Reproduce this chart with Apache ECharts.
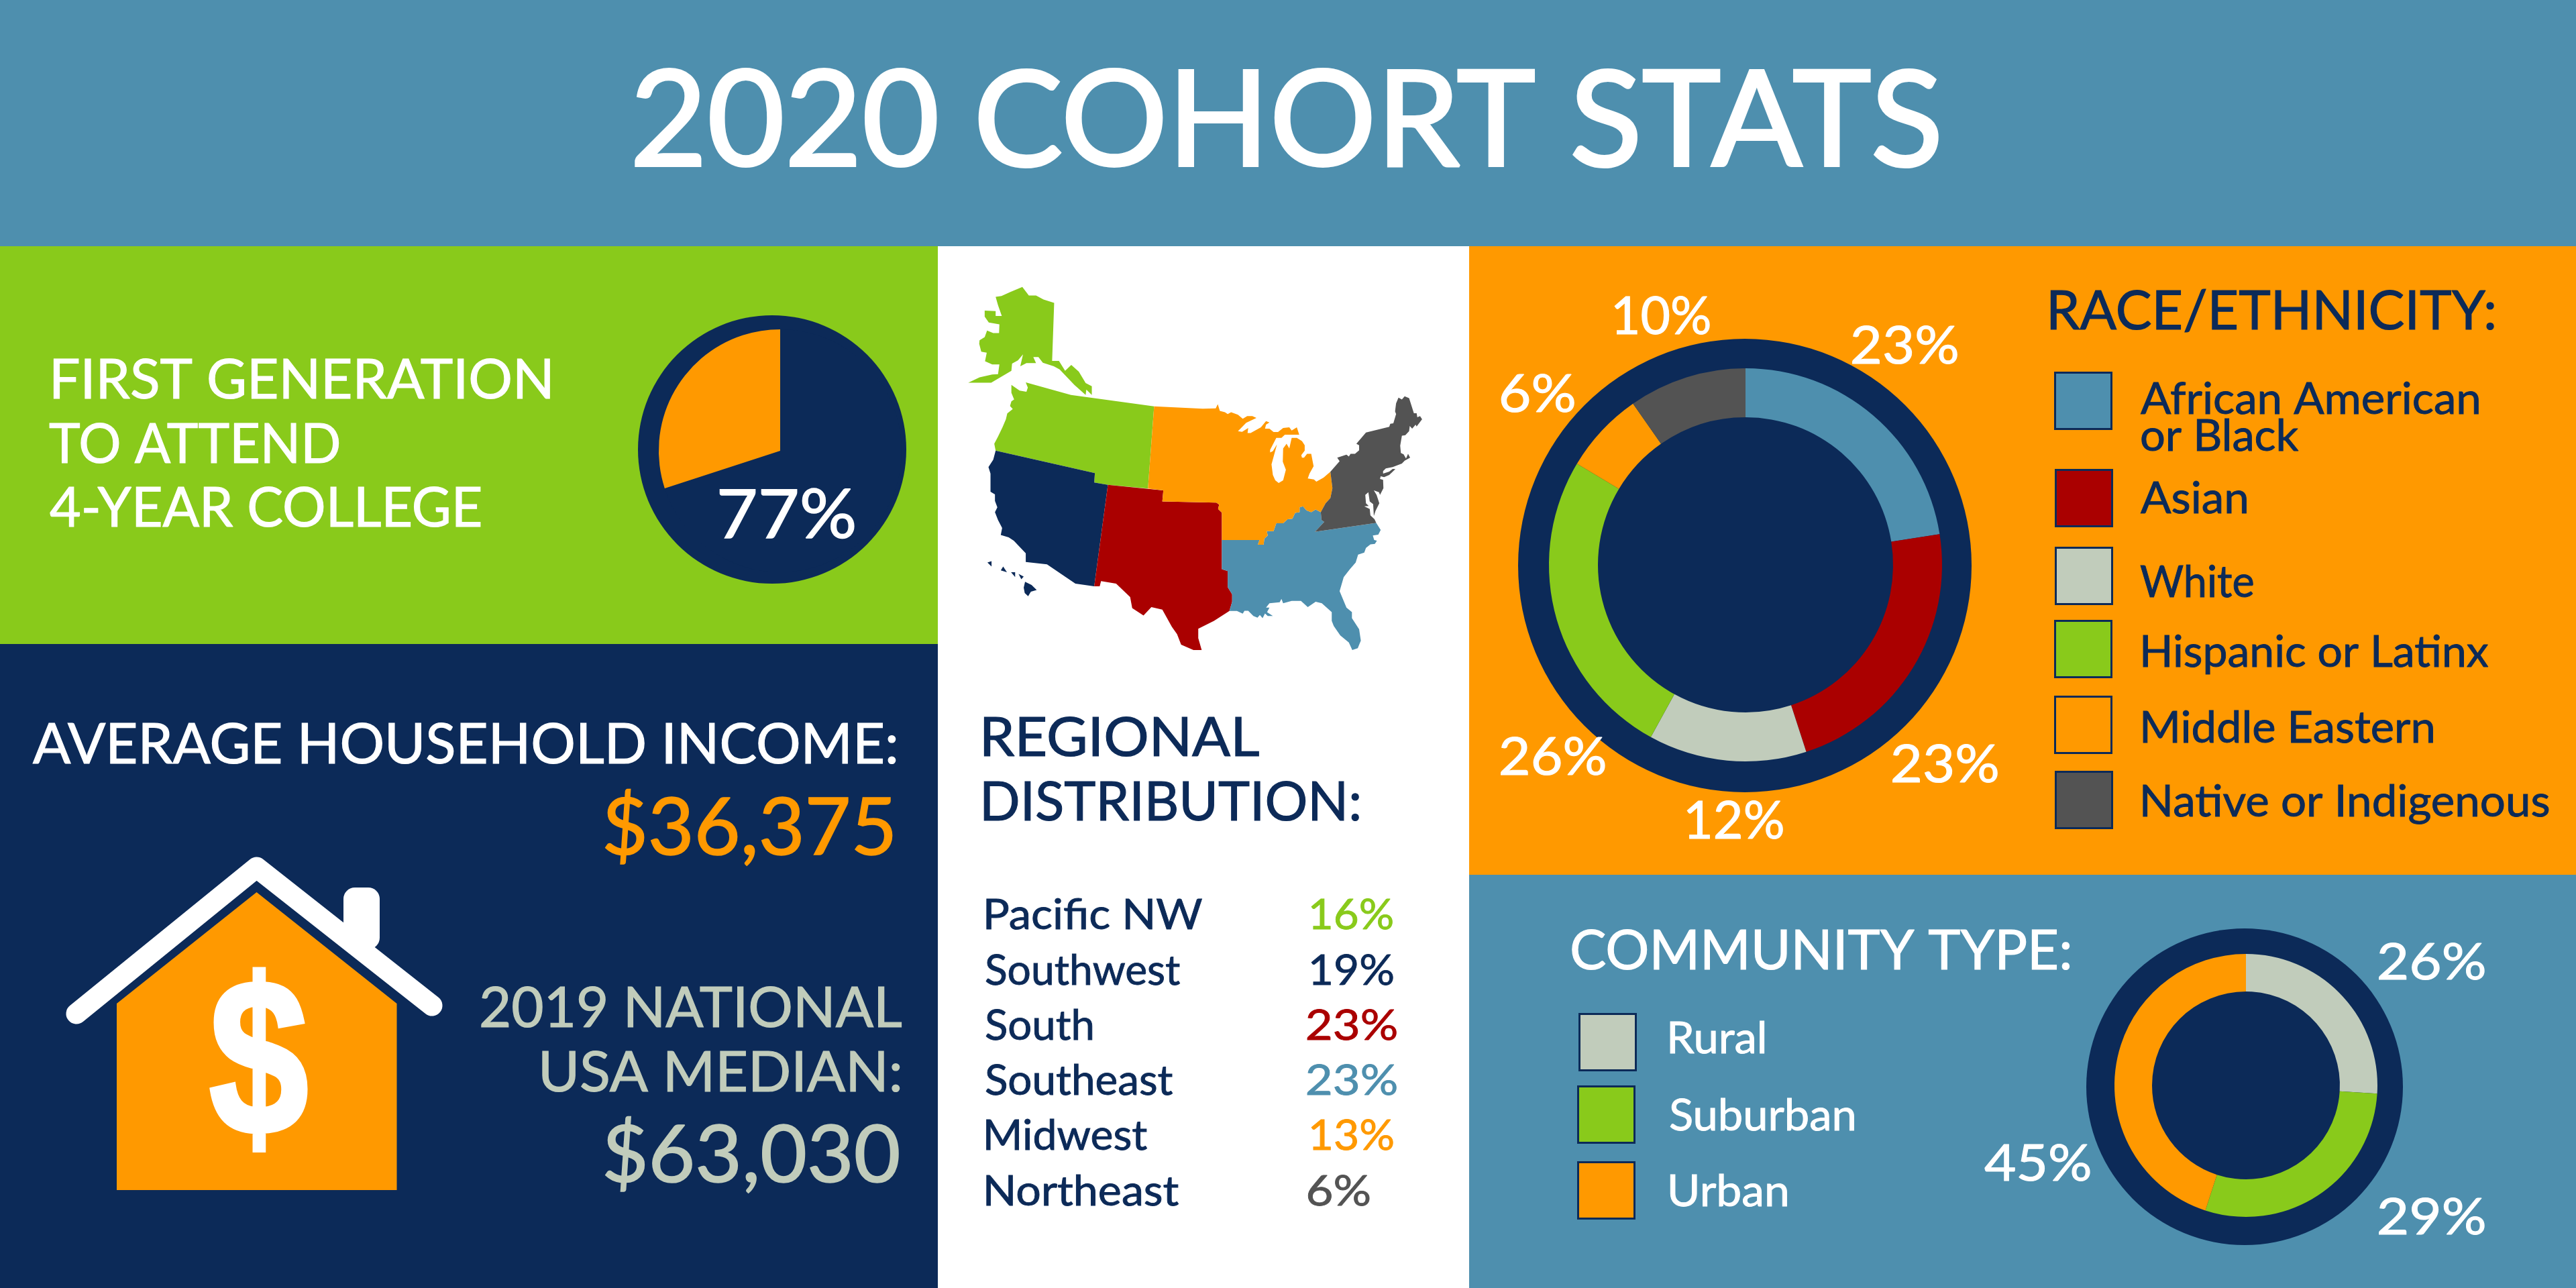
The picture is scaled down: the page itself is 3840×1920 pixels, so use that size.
<!DOCTYPE html>
<html><head><meta charset="utf-8">
<style>html,body{margin:0;padding:0;background:#fff}#c{width:3840px;height:1920px}</style>
<script src="https://cdn.jsdelivr.net/npm/echarts@6/dist/echarts.min.js"></script>
</head><body><div id="c"></div>
<script>
// ---------- palette ----------
const BLUE='#4e8fae',GREEN='#89ca1b',ORANGE='#ff9900',NAVY='#0c2a58',RED='#aa0000',SAGE='#c1ccbb',GREY='#535353',WHITE='#ffffff';
const FONT='Lato';

// ---------- data ----------
const firstGenLabel=77;
const firstGenWedge=[70,30];           // the wedge as drawn in the picture
const regionNames=['Pacific NW','Southwest','South','Southeast','Midwest','Northeast'];
const regionValues=[16,19,23,23,13,6];
const regionColors=[GREEN,NAVY,RED,BLUE,ORANGE,GREY];
const raceNames=['African American or Black','Asian','White','Hispanic or Latinx','Middle Eastern','Native or Indigenous'];
const raceValues=[23,23,12,26,6,10];     // printed labels
const raceArcs=[22.5,22.5,13,25.6,6.7,9.7]; // arcs as drawn in the picture
const raceColors=[BLUE,RED,SAGE,GREEN,ORANGE,GREY];
const communityNames=['Rural','Suburban','Urban'];
const communityValues=[26,29,45];
const communityColors=[SAGE,GREEN,ORANGE];
const incomeValue='$36,375';
const nationalValue='$63,030';

// ---------- map outline ----------
const outlinePacific=[[253,481],[385,528],[628,571],[610,881],[493,867],[453,858],[455,823],[165,738],[161,712],[172,685],[185,650],[195,620],[199,598],[215,581],[207,570],[211,552],[219,545],[211,520],[211,490],[235,512],[255,516],[259,500]];
const outlineAlaska=[[243,121],[262,153],[283,153],[305,168],[336,181],[330,400],[350,400],[368,437],[386,415],[408,440],[428,483],[446,495],[446,528],[430,508],[428,528],[395,490],[352,432],[335,420],[303,407],[290,385],[275,385],[283,408],[255,408],[237,420],[245,375],[230,398],[213,410],[211,437],[152,482],[85,482],[118,462],[155,451],[172,450],[176,413],[155,413],[134,401],[139,369],[123,365],[117,335],[118,322],[133,310],[140,285],[158,295],[175,295],[176,262],[145,255],[133,233],[133,210],[165,212],[165,230],[183,230],[172,190],[165,158],[182,155],[208,140]];
const outlineSouthwest=[[165,738],[455,823],[453,858],[493,867],[453,1250],[398,1240],[315,1167],[253,1158],[253,1125],[218,1078],[203,1065],[180,1056],[184,1030],[172,1000],[163,970],[170,952],[163,928],[163,903],[150,893],[150,825],[144,800],[158,772]];
const outlineHawaii=[[[153,1155],[153,1175],[141,1160]],[[187,1175],[198,1197],[180,1190]],[[222,1197],[222,1215],[210,1197]],[[232,1203],[247,1213],[240,1223]],[[251,1233],[270,1245],[285,1264],[268,1270],[260,1287],[250,1275],[247,1255]]];
const outlineSouth=[[493,867],[655,888],[652,930],[810,934],[818,942],[815,958],[826,972],[826,1185],[843,1192],[843,1253],[856,1280],[856,1308],[848,1343],[803,1380],[757,1410],[757,1445],[767,1490],[743,1490],[707,1470],[695,1430],[680,1403],[652,1338],[620,1328],[597,1360],[564,1332],[558,1290],[517,1240],[473,1230],[469,1250],[453,1250]];
const outlineMidwest=[[628,571],[770,580],[808,579],[814,563],[820,588],[835,593],[843,600],[853,593],[873,603],[887,618],[900,608],[915,608],[927,615],[897,633],[873,665],[885,667],[903,653],[901,672],[910,672],[940,650],[955,627],[965,632],[955,640],[952,655],[965,655],[977,668],[990,668],[1005,653],[1023,650],[1030,662],[1045,650],[1052,678],[1010,678],[1000,690],[985,690],[967,735],[967,745],[975,740],[987,715],[971,790],[975,830],[982,850],[992,860],[1005,850],[1013,810],[1004,780],[1005,730],[1015,712],[1023,730],[1030,690],[1045,690],[1060,702],[1068,718],[1068,738],[1058,755],[1060,765],[1066,765],[1075,750],[1087,750],[1094,797],[1082,825],[1077,843],[1095,847],[1102,855],[1123,840],[1143,818],[1149,880],[1143,917],[1129,937],[1115,970],[1100,960],[1087,970],[1073,963],[1063,948],[1053,952],[1053,970],[1040,973],[1032,995],[1018,997],[1005,1012],[985,1012],[977,1042],[957,1042],[960,1058],[950,1070],[948,1093],[931,1093],[936,1075],[826,1075],[826,972],[815,958],[818,942],[810,934],[652,930],[655,888],[610,881]];
const outlineSoutheast=[[826,1075],[936,1075],[931,1093],[948,1093],[950,1070],[960,1058],[957,1042],[977,1042],[985,1012],[1005,1012],[1018,997],[1032,995],[1040,973],[1053,970],[1053,952],[1063,948],[1073,963],[1087,970],[1100,960],[1115,970],[1117,1000],[1125,1007],[1098,1044],[1277,1011],[1290,1037],[1283,1055],[1267,1058],[1271,1075],[1279,1078],[1273,1090],[1260,1092],[1247,1105],[1242,1123],[1224,1130],[1217,1160],[1200,1185],[1182,1215],[1170,1268],[1190,1330],[1206,1347],[1206,1370],[1227,1412],[1232,1455],[1223,1483],[1207,1490],[1197,1462],[1172,1435],[1153,1400],[1147,1380],[1147,1347],[1118,1314],[1100,1308],[1077,1328],[1057,1305],[1030,1305],[1005,1314],[1000,1297],[995,1310],[965,1314],[955,1330],[965,1330],[958,1347],[975,1362],[960,1362],[952,1352],[945,1370],[937,1358],[930,1368],[918,1362],[903,1342],[892,1342],[887,1353],[870,1343],[848,1343],[856,1308],[856,1280],[843,1253],[843,1192],[826,1185]];
const outlineNortheast=[[1143,818],[1170,778],[1163,765],[1190,753],[1197,760],[1202,750],[1215,750],[1227,737],[1227,718],[1219,712],[1247,670],[1315,648],[1318,637],[1327,635],[1335,600],[1332,590],[1335,560],[1342,538],[1352,545],[1360,533],[1373,540],[1387,597],[1395,597],[1397,612],[1405,608],[1411,620],[1395,647],[1392,640],[1382,655],[1375,645],[1373,665],[1362,680],[1352,682],[1347,720],[1349,747],[1357,752],[1364,768],[1370,750],[1376,765],[1360,776],[1352,787],[1325,800],[1305,805],[1297,815],[1297,825],[1315,817],[1325,807],[1333,808],[1315,830],[1300,838],[1290,835],[1288,845],[1297,848],[1298,880],[1288,905],[1285,895],[1270,888],[1278,905],[1286,937],[1275,965],[1270,985],[1268,940],[1258,930],[1254,895],[1245,905],[1247,937],[1255,947],[1242,948],[1258,958],[1260,982],[1272,997],[1277,1011],[1098,1044],[1125,1007],[1117,1000],[1115,970],[1129,937],[1143,917],[1149,880]];

// trace space -> page pixels
const tp=r=>r.map(p=>[1400+p[0]/1.96,380+p[1]/2.53]);
const regionShapes={
 'Pacific NW':[outlinePacific,outlineAlaska],
 'Southwest':[outlineSouthwest,...outlineHawaii],
 'South':[outlineSouth],
 'Southeast':[outlineSoutheast],
 'Midwest':[outlineMidwest],
 'Northeast':[outlineNortheast]
};
const geoJson={type:'FeatureCollection',features:regionNames.map(n=>({type:'Feature',properties:{name:n},
  geometry:{type:'MultiPolygon',coordinates:regionShapes[n].map(r=>{const q=tp(r);q.push(q[0]);return [q];})}}))};
echarts.registerMap('usRegions',geoJson);
const allPts=Object.values(regionShapes).flat().flatMap(tp);
const bx=allPts.map(p=>p[0]),by=allPts.map(p=>p[1]);
const mapL=Math.min(...bx),mapT=Math.min(...by),mapW=Math.max(...bx)-mapL,mapH=Math.max(...by)-mapT;

// ---------- text fitted to its place in the picture ----------
const ctx=document.createElement('canvas').getContext('2d');
function txt(text,x,baseline,cap,width,fill,font,strokeW){
  const fam=font||('400 100px '+FONT);
  ctx.font=fam; ctx.textBaseline='alphabetic';
  const ratio=ctx.measureText('H').actualBoundingBoxAscent/100;
  const sizePx=cap/ratio, f=fam.replace('100px',sizePx.toFixed(2)+'px');
  ctx.font=f;
  const m=ctx.measureText(text), ink=m.actualBoundingBoxLeft+m.actualBoundingBoxRight, sx=width/ink;
  ctx.textBaseline='middle';
  const off=ctx.measureText('H').actualBoundingBoxDescent;
  return {type:'text',z:50,silent:true,x:x+m.actualBoundingBoxLeft*sx,y:baseline-off,scaleX:sx,
    style:{text,font:f,fill,textAlign:'left',textVerticalAlign:'middle',
      stroke:fill,lineWidth:strokeW||cap*0.02,lineJoin:'round'}};
}
const rect=(x,y,w,h,fill,z)=>({type:'rect',z:z||0,silent:true,shape:{x,y,width:w,height:h},style:{fill}});
const swatch=(x,y,s,fill)=>({type:'rect',z:40,silent:true,shape:{x:x+1.5,y:y+1.5,width:s-3,height:s-3},style:{fill,stroke:NAVY,lineWidth:3}});

const regionRowBase=[1385,1468,1550,1632,1714,1797];
const regionRowWidth=[322,289,158,278,240,287];
const regionPctX=[1955,1955,1948,1948,1955,1950];
const regionPctW=[121,122,134,134,122,92];

const raceSwatch=[[3062,554],[3063,699],[3063,815],[3062,924],[3062,1037],[3063,1149]];
const raceLabelPos=[[3195,1107],[3195,1217]];
const raceValuePos=[[2761,542,157],[2821,1166,157],[2515,1250,143],[2237,1155,156],[2238,614,109],[2407,498,142]];

const communitySwatch=[[2353,1510],[2351,1618],[2351,1731]];
const communityLabel=[[1570,140],[1684.5,274],[1798,174]];
const communityPct=[[3546,1460],[3546,1840],[2958,1760]];

const elements=[
  rect(0,0,3840,367,BLUE),
  rect(0,367,1398,593,GREEN),
  rect(0,960,1398,960,NAVY),
  rect(2190,367,1650,937,ORANGE),
  rect(2190,1304,1650,616,BLUE),
  // house icon
  {type:'polygon',z:10,silent:true,shape:{points:[[174,1496],[382.5,1330],[591.5,1496],[591.5,1774],[174,1774]]},style:{fill:ORANGE}},
  {type:'rect',z:11,silent:true,shape:{x:512,y:1323,width:54,height:92,r:17},style:{fill:WHITE}},
  {type:'polyline',z:12,silent:true,shape:{points:[[114,1511],[382.5,1293],[644,1499]]},style:{stroke:WHITE,lineWidth:31,lineCap:'round',lineJoin:'round',fill:null}},
  txt('$',312,1690,231,145,WHITE,'700 100px "Liberation Sans"',7),
  // text
  txt('2020 COHORT STATS',948,247,145,1940,WHITE,null,4),
  txt('FIRST GENERATION',80,594,60,740,WHITE),
  txt('TO ATTEND',74,689.5,60,431,WHITE),
  txt('4-YEAR COLLEGE',74,785,60,642,WHITE),
  txt(firstGenLabel+'%',1073,802,73,200,WHITE),
  txt('AVERAGE HOUSEHOLD INCOME:',49,1138,61,1286,WHITE),
  txt(incomeValue,902,1274,86,428,ORANGE),
  txt('2019 NATIONAL',717,1531,61,627,SAGE),
  txt('USA MEDIAN:',808,1627,61,533,SAGE),
  txt(nationalValue,902,1762,86,437,SAGE),
  txt('REGIONAL',1467,1127,59,410,NAVY),
  txt('DISTRIBUTION:',1467,1223,59,559,NAVY),
  txt('RACE/ETHNICITY:',3057,491,59,661,NAVY),
  txt('COMMUNITY TYPE:',2343,1445,60,742,WHITE),
  txt('African American',3191,617,48,504,NAVY),
  txt('or Black',3192,672,48,235,NAVY),
  txt(raceNames[1],3191,765,48,158,NAVY),
  txt(raceNames[2],3191,890,48,168,NAVY),
  txt(raceNames[3],3195,993.5,48,514,NAVY),
  txt(raceNames[4],raceLabelPos[0][0],raceLabelPos[0][1],48,432,NAVY),
  txt(raceNames[5],raceLabelPos[1][0],raceLabelPos[1][1],48,604,NAVY)
];
regionNames.forEach((n,i)=>{
  elements.push(txt(n,1470,regionRowBase[i],45.5,regionRowWidth[i],NAVY));
  elements.push(txt(regionValues[i]+'%',regionPctX[i],regionRowBase[i],45.5,regionPctW[i],regionColors[i]));
});
raceValues.forEach((v,i)=>{
  elements.push(swatch(raceSwatch[i][0],raceSwatch[i][1],87,raceColors[i]));
  elements.push(txt(v+'%',raceValuePos[i][0],raceValuePos[i][1],57,raceValuePos[i][2],WHITE));
});
communityValues.forEach((v,i)=>{
  elements.push(swatch(communitySwatch[i][0],communitySwatch[i][1],87,communityColors[i]));
  elements.push(txt(communityNames[i],2490,communityLabel[i][0],48,communityLabel[i][1],WHITE));
  elements.push(txt(v+'%',communityPct[i][0],communityPct[i][1],55,158,WHITE));
});

// ---------- series ----------
const disk=(center,r)=>({type:'pie',silent:true,animation:false,center,radius:[0,r],label:{show:false},labelLine:{show:false},
  data:[{name:'backing',value:1,itemStyle:{color:NAVY}}]});
const donut=(center,radius,names,values,colors)=>({type:'pie',silent:true,animation:false,center,radius,startAngle:90,clockwise:true,
  label:{show:false},labelLine:{show:false},itemStyle:{borderWidth:0},
  data:values.map((v,i)=>({name:names[i],value:v,itemStyle:{color:colors[i]}}))});

const chart=echarts.init(document.getElementById('c'),null,{renderer:'canvas',width:3840,height:1920});
chart.setOption({
  animation:false,
  backgroundColor:WHITE,
  graphic:{elements},
  series:[
    disk([1151,670],200),
    donut([1163,672],[0,181],['Not first generation','First generation'],firstGenWedge,[NAVY,ORANGE]),
    disk([2601,843],338),
    donut([2602,842],[220,293],raceNames,raceArcs,raceColors),
    disk([3346,1620],236),
    donut([3348,1618],[140,196],communityNames,communityValues,communityColors),
    {type:'map',map:'usRegions',silent:true,animation:false,aspectScale:1,roam:false,
     projection:{project:p=>p,unproject:p=>p},
     left:mapL,top:mapT,width:mapW,height:mapH,
     label:{show:false},
     itemStyle:{borderWidth:0},
     data:regionNames.map((n,i)=>({name:n,value:regionValues[i],itemStyle:{areaColor:regionColors[i]}}))}
  ]
});
</script></body></html>
